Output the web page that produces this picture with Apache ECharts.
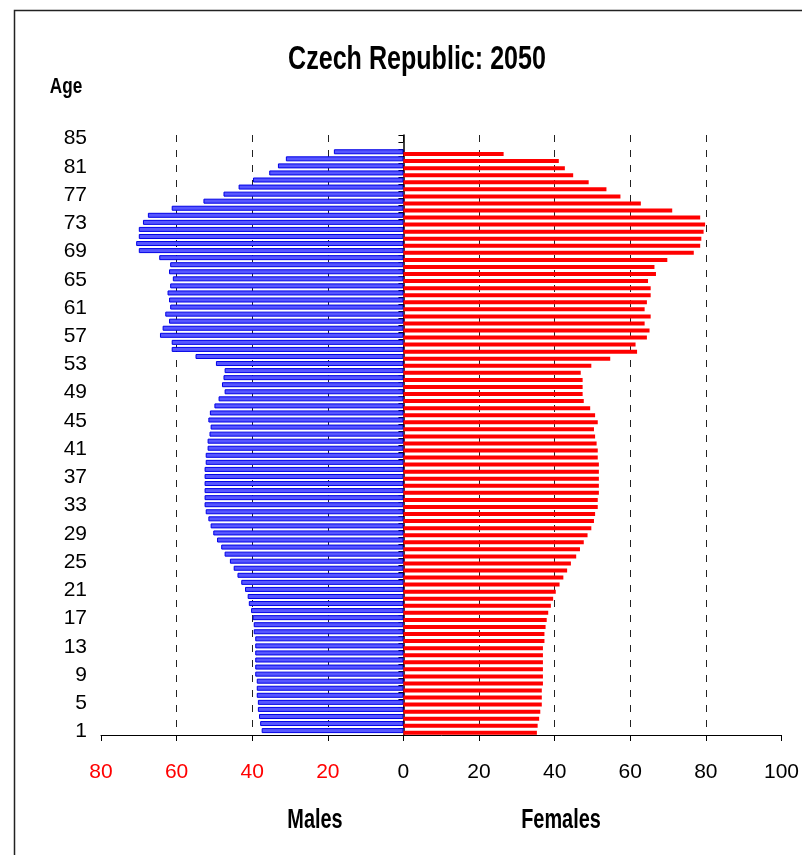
<!DOCTYPE html>
<html>
<head>
<meta charset="utf-8">
<script src="https://cdn.jsdelivr.net/npm/echarts@6/dist/echarts.min.js"></script>
<style>
  html, body { margin: 0; padding: 0; background: #fff; }
  #main { width: 802px; height: 855px; }
</style>
</head>
<body>
<div id="main"></div>
<script>
// ages 1..85 (84 and 85 have no bars)
const ages = []
for (let a = 1; a <= 85; a++) ages.push(String(a))

// males, age 1 upward (thousands)
const males = [
  37.5, 37.9, 38.2, 38.5, 38.5, 38.8, 38.8, 38.8, 39.2, 39.2,
  39.2, 39.2, 39.2, 39.2, 39.6, 39.6, 39.9, 40.3, 40.9, 41.2,
  41.9, 42.9, 43.9, 44.9, 45.9, 47.3, 48.2, 49.3, 50.3, 51.0,
  51.6, 52.3, 52.6, 52.6, 52.6, 52.6, 52.6, 52.6, 52.3, 52.3,
  51.8, 51.8, 51.3, 51.0, 51.6, 51.2, 50.0, 48.9, 47.3, 48.0,
  47.6, 47.3, 49.6, 55.0, 61.3, 61.3, 64.4, 63.7, 62.0, 63.0,
  61.7, 62.0, 62.4, 61.7, 61.0, 62.0, 61.7, 64.6, 70.0, 70.7,
  70.0, 70.0, 68.9, 67.6, 61.3, 52.9, 47.6, 43.6, 39.8, 35.5,
  33.2, 31.1, 18.4
]

// females, age 1 upward
const females = [
  35.3, 35.5, 35.9, 36.2, 36.6, 36.6, 36.6, 36.9, 36.9, 36.9,
  36.9, 36.9, 36.9, 37.3, 37.3, 37.6, 37.9, 38.3, 39.0, 39.6,
  40.3, 41.3, 42.3, 43.3, 44.3, 45.7, 46.7, 47.7, 48.7, 49.7,
  50.4, 50.7, 51.4, 51.4, 51.7, 51.7, 51.7, 51.7, 51.7, 51.4,
  51.4, 51.1, 50.7, 50.4, 51.4, 50.7, 49.4, 47.7, 47.4, 47.4,
  47.4, 46.9, 49.7, 54.7, 61.8, 61.4, 64.4, 65.1, 63.8, 65.4,
  63.8, 64.4, 65.4, 65.4, 64.7, 66.8, 66.4, 69.8, 76.8, 78.5,
  78.8, 79.4, 79.8, 78.5, 71.1, 62.8, 57.4, 53.7, 49.0, 44.9,
  42.7, 41.1, 26.5
]

const font = '"Liberation Sans", Arial, sans-serif'

// bold captions squeezed sideways to look like the narrow face of the original
function caption (text, x, y, size, sx) {
  return {
    type: 'text', x: x, y: y, scaleX: sx, silent: true,
    style: { text: text, x: 0, y: 0, fontSize: size, fontWeight: 'bold', fontFamily: font,
      fill: '#000', textAlign: 'center', textVerticalAlign: 'middle' }
  }
}

const chart = echarts.init(document.getElementById('main'))
chart.setOption({
  animation: false,
  textStyle: { fontFamily: font },
  graphic: [
    { type: 'rect', left: 12, top: 8, shape: { width: 800, height: 860 },
      style: { fill: 'none', stroke: '#222', lineWidth: 1.5 }, silent: true },
    caption('Czech Republic: 2050', 417, 60, 33, 0.76),
    caption('Age', 66, 87, 22, 0.78),
    caption('Males', 315, 820, 28, 0.71),
    caption('Females', 561, 820, 28, 0.71)
  ],
  grid: { left: 101, right: 17, top: 135, height: 600 },
  xAxis: {
    type: 'value',
    min: -80,
    max: 100,
    interval: 20,
    axisLine: { show: true, onZero: false, lineStyle: { color: '#000', width: 1 } },
    axisTick: { show: true, length: 6, lineStyle: { color: '#000' } },
    axisLabel: {
      margin: 27,
      fontSize: 21,
      fontFamily: font,
      formatter: v => String(Math.abs(v)),
      color: v => (Number(v) < 0 ? '#ff0000' : '#000')
    },
    splitLine: {
      show: true, showMinLine: false, showMaxLine: false,
      lineStyle: { color: '#222', type: [7, 8], width: 1 }
    }
  },
  yAxis: [
    {
      type: 'category',
      data: ages,
      axisLine: { show: true, onZero: true, lineStyle: { color: '#000', width: 1.5 } },
      axisTick: { show: true, interval: 0, length: 5, lineStyle: { color: '#000' } },
      axisLabel: { show: false }
    },
    {
      type: 'category',
      data: ages,
      position: 'left',
      axisLine: { show: false },
      axisTick: { show: false },
      axisLabel: { interval: 3, margin: 14, fontSize: 21, color: '#000', fontFamily: font }
    }
  ],
  series: [
    {
      name: 'Males',
      type: 'bar',
      yAxisIndex: 0,
      data: males.map(v => -v),
      barWidth: 5,
      barGap: '-45%',
      itemStyle: { color: '#5656ff', borderColor: '#0000e6', borderWidth: 1 }
    },
    {
      name: 'Females',
      type: 'bar',
      yAxisIndex: 0,
      data: females,
      barWidth: 4,
      itemStyle: { color: '#ff0000' }
    }
  ]
})
</script>
</body>
</html>
